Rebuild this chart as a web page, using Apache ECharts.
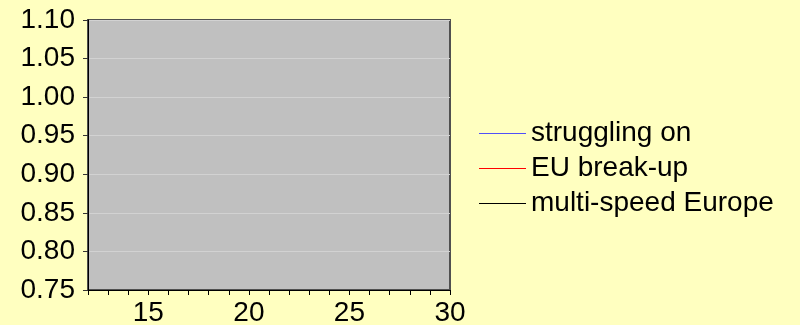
<!DOCTYPE html>
<html>
<head>
<meta charset="utf-8">
<script src="https://cdn.jsdelivr.net/npm/echarts@6/dist/echarts.min.js"></script>
<style>
html,body{margin:0;padding:0;background:#ffffc0;}
#c{width:800px;height:325px;}
</style>
</head>
<body>
<div id="c"></div>
<script>
// Data (no visible observations inside the plotted window)
var seriesNames = ['struggling on', 'EU break-up', 'multi-speed Europe'];
var seriesColors = ['#5050f8', '#ff0000', '#000000'];
var strugglingOn = [];
var euBreakUp = [];
var multiSpeedEurope = [];
var xMin = 12, xMax = 30;
var yMin = 0.75, yMax = 1.10, yStep = 0.05;

var chart = echarts.init(document.getElementById('c'), null, {renderer: 'canvas'});
var font = 'Liberation Sans, Arial, sans-serif';
var values = [strugglingOn, euBreakUp, multiSpeedEurope];
chart.setOption({
  color: seriesColors,
  backgroundColor: '#ffffc0',
  animation: false,
  textStyle: {fontFamily: font},
  grid: {
    left: 88, top: 20, width: 362, height: 270,
    outerBoundsMode: 'none', containLabel: false,
    show: true, backgroundColor: '#c0c0c0', borderColor: '#505050', borderWidth: 2
  },
  legend: {
    orient: 'vertical',
    left: 474, top: 114,
    itemWidth: 47, itemHeight: 1, itemGap: 6,
    icon: 'rect',
    itemStyle: {borderWidth: 0},
    textStyle: {fontFamily: font, fontSize: 28, lineHeight: 29, color: '#000'},
    data: seriesNames
  },
  xAxis: {
    type: 'value', min: xMin, max: xMax, interval: 1,
    axisLine: {show: true, lineStyle: {color: '#000', width: 1}},
    axisTick: {show: true, length: 5, lineStyle: {color: '#000'}},
    axisLabel: {
      fontFamily: font, fontSize: 28, color: '#000', margin: 9,
      formatter: function(v){ return (v % 5 === 0) ? String(v) : ''; }
    },
    splitLine: {show: false}
  },
  yAxis: {
    type: 'value', min: yMin, max: yMax, interval: yStep,
    axisLine: {show: true, lineStyle: {color: '#000', width: 1}},
    axisTick: {show: true, length: 5, lineStyle: {color: '#333'}},
    axisLabel: {
      fontFamily: font, fontSize: 28, color: '#000', margin: 13,
      formatter: function(v){ return v.toFixed(2); }
    },
    splitLine: {show: true, lineStyle: {color: '#d2d2d2', width: 1}}
  },
  series: seriesNames.map(function(n, i){
    return {
      name: n, type: 'line', data: values[i], symbol: 'none',
      lineStyle: {width: 1}
    };
  })
});
</script>
</body>
</html>
